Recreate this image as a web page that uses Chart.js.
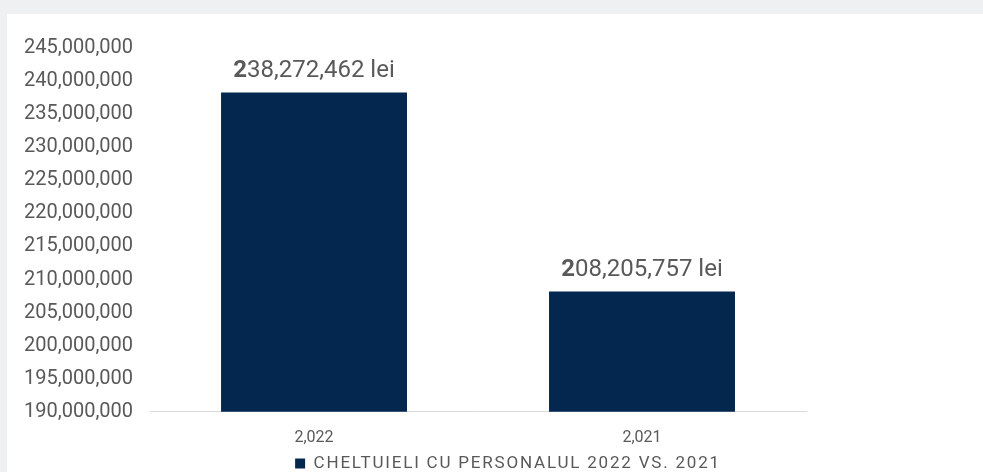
<!DOCTYPE html>
<html>
<head>
<meta charset="utf-8">
<script src="https://cdn.jsdelivr.net/npm/chart.js@4/dist/chart.umd.min.js"></script>
<style>
  html, body { margin: 0; padding: 0; background: #eff0f2; width: 983px; height: 472px; overflow: hidden; }
  #box { position: absolute; left: 7px; top: 14px; width: 976px; height: 458px; background: #ffffff; }
  canvas { display: block; }
</style>
</head>
<body>
<div id="box"><canvas id="c" width="976" height="458"></canvas></div>
<script>
const categories = ['2,022', '2,021'];
const seriesName = 'CHELTUIELI CU PERSONALUL 2022 VS. 2021';
const seriesValues = [238272462, 208205757];
const yMin = 190000000;
const yMax = 245000000;
const yStep = 5000000;

const textColor = '#595959';
const barColor = '#03274f';

const valueLabels = {
  id: 'valueLabels',
  afterDatasetsDraw(chart) {
    const ctx = chart.ctx;
    const meta = chart.getDatasetMeta(0);
    ctx.save();
    ctx.fillStyle = textColor;
    ctx.textBaseline = 'alphabetic';
    meta.data.forEach((bar, i) => {
      const s = seriesValues[i].toLocaleString('en-US') + ' lei';
      const first = s.charAt(0);
      const rest = s.slice(1);
      const fb = 'bold 24px Roboto';
      const fr = '24px Roboto';
      ctx.font = fb; const w1 = ctx.measureText(first).width;
      ctx.font = fr; const w2 = ctx.measureText(rest).width;
      const x0 = bar.x - (w1 + w2) / 2;
      const y = bar.y - 15;
      ctx.textAlign = 'left';
      ctx.font = fb; ctx.fillText(first, x0, y);
      ctx.font = fr; ctx.fillText(rest, x0 + w1, y);
    });
    ctx.restore();
  }
};

const legendTweak = {
  id: 'legendTweak',
  beforeLayout(chart) {
    const lg = chart.legend;
    if (lg && !lg._spaced) {
      lg._spaced = true;
      const origFit = lg.fit.bind(lg);
      const origDraw = lg.draw.bind(lg);
      lg.fit = function () {
        const c = this.ctx; c.save(); c.letterSpacing = '1.8px';
        origFit(); c.restore();
      };
      lg.draw = function () {
        const c = this.ctx; c.save(); c.letterSpacing = '1.8px';
        origDraw(); c.restore();
      };
    }
  },
  afterLayout(chart) {
    const lg = chart.legend;
    if (lg) { lg.left = 26; lg.right = chart.width; }
  }
};

new Chart(document.getElementById('c'), {
  type: 'bar',
  data: {
    labels: categories,
    datasets: [{
      label: seriesName,
      data: seriesValues,
      backgroundColor: barColor,
      borderWidth: 0,
      categoryPercentage: 0.567,
      barPercentage: 1.0
    }]
  },
  options: {
    responsive: false,
    animation: false,
    layout: { padding: { left: 0, right: 177, top: 34, bottom: -10 } },
    plugins: {
      legend: {
        position: 'bottom',
        labels: {
          color: textColor,
          font: { family: 'Roboto', size: 17 },
          boxWidth: 10,
          boxHeight: 10,
          padding: 0
        }
      },
      tooltip: { enabled: false }
    },
    scales: {
      x: {
        grid: { display: false, drawTicks: false },
        border: { display: true, color: '#d9d9d9', width: 1 },
        ticks: { color: textColor, font: { family: 'Roboto', size: 16 }, padding: 17 },
        afterFit(scale) { scale.height -= 10; }
      },
      y: {
        min: yMin,
        max: yMax,
        grid: { display: false, drawTicks: false },
        border: { display: false },
        ticks: {
          stepSize: yStep,
          color: textColor,
          font: { family: 'Roboto', size: 20 },
          padding: 17,
          callback: v => v.toLocaleString('en-US')
        }
      }
    }
  },
  plugins: [valueLabels, legendTweak]
});
</script>
</body>
</html>
